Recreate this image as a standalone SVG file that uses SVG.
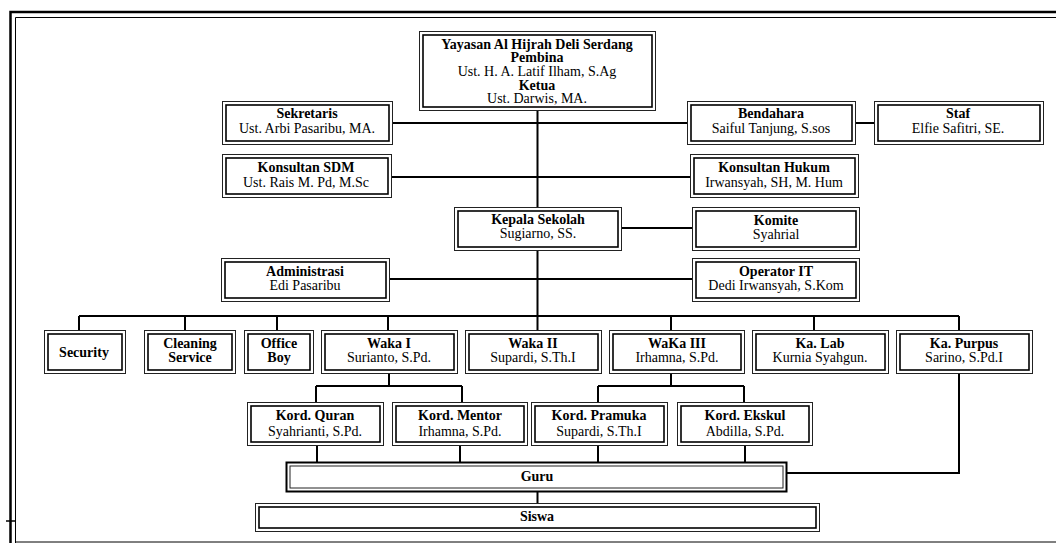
<svg xmlns="http://www.w3.org/2000/svg" width="1056" height="543" viewBox="0 0 1056 543">
<style>
.o{fill:#fff;stroke:#222;stroke-width:1}
.i{fill:none;stroke:#000;stroke-width:1.6}
.c{fill:none;stroke:#000;stroke-width:2}
text{font-family:"Liberation Serif","Times New Roman",serif;font-size:14px;text-anchor:middle;fill:#000}
.b{font-weight:bold}
</style>
<rect width="1056" height="543" fill="#fff"/>
<g id="frame" fill="none" stroke="#000">
<path d="M10.5,543 V12 H1056" stroke-width="2.5"/>
<path d="M15.5,543 V17.5 H1056" stroke-width="1"/>
<path d="M15,542 H1056" stroke-width="1"/>
<path d="M6,521 H15" stroke-width="1.5"/>
</g>
<g id="connectors" class="c">
<path class="c" d="M537.5,110 V207 M537.5,250 V331"/>
<path class="c" d="M392,123 H688 M855,123 H874 M391,177 H690 M621,228 H692 M389,279 H692"/>
<path class="c" d="M79,316 H959 M79,316 V330 M185,316 V330 M277,316 V330 M388,316 V330 M671,316 V330 M814,316 V330 M959,316 V330"/>
<path class="c" d="M389,373 V386 M316,386 H462 M316,386 V402 M462,386 V402"/>
<path class="c" d="M671,373 V386 M598,386 H744 M598,386 V402 M744,386 V402"/>
<path class="c" d="M317,445 V462 M460,445 V462 M598,445 V462 M745,445 V462"/>
<path class="c" d="M959,373 V473 H786"/>
<path class="c" d="M537.5,491 V503"/>
</g>
<g id="yayasan">
<rect class="o" x="419.5" y="31.5" width="236" height="79"/><rect class="i" x="423" y="35" width="229" height="72"/>
<text class="b" x="537" y="48.5">Yayasan Al Hijrah Deli Serdang</text>
<text class="b" x="537" y="61.5">Pembina</text>
<text x="537" y="76">Ust. H. A. Latif Ilham, S.Ag</text>
<text class="b" x="537" y="89.5">Ketua</text>
<text x="537" y="102.5">Ust. Darwis, MA.</text>
</g>
<g id="sekretaris">
<rect class="o" x="222.5" y="101.5" width="170" height="43"/><rect class="i" x="226" y="105" width="163" height="36"/>
<text class="b" x="307" y="118">Sekretaris</text><text x="307" y="133">Ust. Arbi Pasaribu, MA.</text>
</g>
<g id="bendahara">
<rect class="o" x="687.5" y="101.5" width="168" height="43"/><rect class="i" x="691" y="105" width="161" height="36"/>
<text class="b" x="771" y="118">Bendahara</text><text x="771" y="133">Saiful Tanjung, S.sos</text>
</g>
<g id="staf">
<rect class="o" x="874.5" y="101.5" width="169" height="43"/><rect class="i" x="878" y="105" width="162" height="36"/>
<text class="b" x="958" y="118">Staf</text><text x="958" y="133">Elfie Safitri, SE.</text>
</g>
<g id="konsultan-sdm">
<rect class="o" x="222.5" y="154.5" width="169" height="43"/><rect class="i" x="226" y="158" width="162" height="36"/>
<text class="b" x="306" y="172">Konsultan SDM</text><text x="306" y="187">Ust. Rais M. Pd, M.Sc</text>
</g>
<g id="konsultan-hukum">
<rect class="o" x="690.5" y="154.5" width="168" height="43"/><rect class="i" x="694" y="158" width="161" height="36"/>
<text class="b" x="774" y="172">Konsultan Hukum</text><text x="774" y="187">Irwansyah, SH, M. Hum</text>
</g>
<g id="kepala-sekolah">
<rect class="o" x="454.5" y="207.5" width="167" height="43"/><rect class="i" x="458" y="211" width="160" height="36"/>
<text class="b" x="538" y="224">Kepala Sekolah</text><text x="538" y="238">Sugiarno, SS.</text>
</g>
<g id="komite">
<rect class="o" x="692.5" y="207.5" width="167" height="43"/><rect class="i" x="696" y="211" width="160" height="36"/>
<text class="b" x="776" y="225">Komite</text><text x="776" y="239">Syahrial</text>
</g>
<g id="administrasi">
<rect class="o" x="221.5" y="258.5" width="168" height="43"/><rect class="i" x="225" y="262" width="161" height="36"/>
<text class="b" x="305" y="276">Administrasi</text><text x="305" y="290">Edi Pasaribu</text>
</g>
<g id="operator-it">
<rect class="o" x="692.5" y="258.5" width="167" height="43"/><rect class="i" x="696" y="262" width="160" height="36"/>
<text class="b" x="776" y="276">Operator IT</text><text x="776" y="290">Dedi Irwansyah, S.Kom</text>
</g>
<g id="security">
<rect class="o" x="44.5" y="330.5" width="81" height="43"/><rect class="i" x="48" y="334" width="74" height="36"/>
<text class="b" x="84" y="357">Security</text>
</g>
<g id="cleaning-service">
<rect class="o" x="144.5" y="330.5" width="91" height="43"/><rect class="i" x="148" y="334" width="84" height="36"/>
<text class="b" x="190" y="348">Cleaning</text><text class="b" x="190" y="362">Service</text>
</g>
<g id="office-boy">
<rect class="o" x="244.5" y="330.5" width="69" height="43"/><rect class="i" x="248" y="334" width="62" height="36"/>
<text class="b" x="279" y="348">Office</text><text class="b" x="279" y="362">Boy</text>
</g>
<g id="waka-1">
<rect class="o" x="321.5" y="330.5" width="136" height="43"/><rect class="i" x="325" y="334" width="129" height="36"/>
<text class="b" x="389" y="348">Waka I</text><text x="389" y="362">Surianto, S.Pd.</text>
</g>
<g id="waka-2">
<rect class="o" x="465.5" y="330.5" width="136" height="43"/><rect class="i" x="469" y="334" width="129" height="36"/>
<text class="b" x="533" y="348">Waka II</text><text x="533" y="362">Supardi, S.Th.I</text>
</g>
<g id="waka-3">
<rect class="o" x="609.5" y="330.5" width="135" height="43"/><rect class="i" x="613" y="334" width="128" height="36"/>
<text class="b" x="677" y="348">WaKa III</text><text x="677" y="362">Irhamna, S.Pd.</text>
</g>
<g id="ka-lab">
<rect class="o" x="752.5" y="330.5" width="136" height="43"/><rect class="i" x="756" y="334" width="129" height="36"/>
<text class="b" x="820" y="348">Ka. Lab</text><text x="820" y="362">Kurnia Syahgun.</text>
</g>
<g id="ka-purpus">
<rect class="o" x="896.5" y="330.5" width="136" height="43"/><rect class="i" x="900" y="334" width="129" height="36"/>
<text class="b" x="964" y="348">Ka. Purpus</text><text x="964" y="362">Sarino, S.Pd.I</text>
</g>
<g id="kord-quran">
<rect class="o" x="247.5" y="402.5" width="136" height="43"/><rect class="i" x="251" y="406" width="129" height="36"/>
<text class="b" x="315" y="420">Kord. Quran</text><text x="315" y="436">Syahrianti, S.Pd.</text>
</g>
<g id="kord-mentor">
<rect class="o" x="392.5" y="402.5" width="135" height="43"/><rect class="i" x="396" y="406" width="128" height="36"/>
<text class="b" x="460" y="420">Kord. Mentor</text><text x="460" y="436">Irhamna, S.Pd.</text>
</g>
<g id="kord-pramuka">
<rect class="o" x="531.5" y="402.5" width="136" height="43"/><rect class="i" x="535" y="406" width="129" height="36"/>
<text class="b" x="599" y="420">Kord. Pramuka</text><text x="599" y="436">Supardi, S.Th.I</text>
</g>
<g id="kord-ekskul">
<rect class="o" x="677.5" y="402.5" width="135" height="43"/><rect class="i" x="681" y="406" width="128" height="36"/>
<text class="b" x="745" y="420">Kord. Ekskul</text><text x="745" y="436">Abdilla, S.Pd.</text>
</g>
<g id="guru">
<rect x="286.5" y="462.5" width="500" height="29" fill="#fff" stroke="#000" stroke-width="2"/><rect class="o" x="290" y="466" width="493" height="22"/>
<text class="b" x="537" y="481">Guru</text>
</g>
<g id="siswa">
<rect class="o" x="255.5" y="503.5" width="564" height="28"/><rect class="i" x="259" y="507" width="557" height="21"/>
<text class="b" x="537" y="521">Siswa</text>
</g>
</svg>
